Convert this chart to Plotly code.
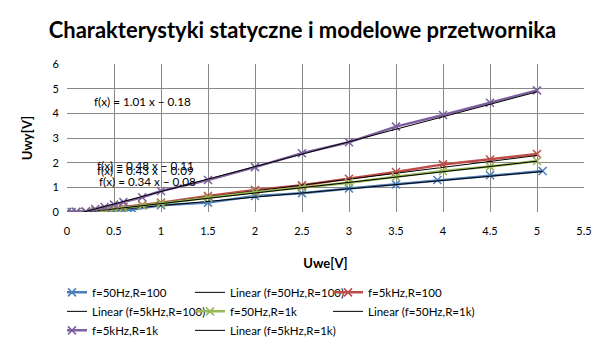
import plotly.graph_objects as go

# ---- data ----
names = ["f=50Hz,R=100", "f=5kHz,R=100", "f=50Hz,R=1k", "f=5kHz,R=1k"]
colors = ["#4A7EBB", "#BE4B48", "#98B954", "#7D60A0"]

x_50_100 = [0, 0.05, 0.1, 0.2, 0.3, 0.4, 0.5, 0.6, 0.7, 1.0, 1.5, 2.0, 2.5, 3.0, 3.5, 3.94, 4.5, 5.06]
y_50_100 = [0, 0, 0, 0, 0.01, 0.03, 0.05, 0.08, 0.1, 0.27, 0.38, 0.65, 0.76, 0.95, 1.12, 1.3, 1.49, 1.66]

x_5k_100 = [0, 0.1, 0.2, 0.3, 0.4, 0.5, 0.6, 0.8, 1.0, 1.5, 2.0, 2.5, 3.0, 3.5, 4.0, 4.5, 5.0]
y_5k_100 = [0, 0, 0.01, 0.04, 0.08, 0.15, 0.2, 0.28, 0.38, 0.65, 0.89, 1.08, 1.35, 1.62, 1.93, 2.13, 2.35]

x_50_1k = [0, 0.1, 0.2, 0.3, 0.4, 0.5, 0.6, 0.8, 1.0, 1.5, 2.0, 2.5, 3.0, 3.5, 4.0, 4.5, 5.0]
y_50_1k = [0, 0, 0.01, 0.03, 0.07, 0.13, 0.17, 0.25, 0.35, 0.58, 0.8, 0.99, 1.19, 1.43, 1.66, 1.84, 2.07]

x_5k_1k = [0, 0.1, 0.2, 0.3, 0.4, 0.5, 0.6, 0.8, 1.0, 1.5, 2.0, 2.5, 3.0, 3.5, 4.0, 4.5, 5.0]
y_5k_1k = [0, 0, 0.02, 0.12, 0.2, 0.3, 0.4, 0.6, 0.85, 1.3, 1.82, 2.38, 2.83, 3.46, 3.93, 4.43, 4.93]

slopes = [0.34, 0.48, 0.43, 1.01]
intercepts = [-0.08, -0.11, -0.09, -0.18]
eq_text = ["f(x) = 0.34 x − 0.08", "f(x) = 0.48 x − 0.11", "f(x) = 0.43 x − 0.09", "f(x) = 1.01 x − 0.18"]
eq_pos = [(0.86, 1.24), (0.83, 1.89), (0.83, 1.69), (0.80, 4.52)]

xs = [x_50_100, x_5k_100, x_50_1k, x_5k_1k]
ys = [y_50_100, y_5k_100, y_50_1k, y_5k_1k]

# legend columns (row-major 3-column layout of the reference legend)
col_of_entry = ["A", "B", "C", "A", "B", "C", "A", "B"]

font = "Lato, Carlito, 'Liberation Sans', sans-serif"

fig = go.Figure()
k = 0
for i in range(4):
    fig.add_trace(go.Scatter(
        x=xs[i], y=ys[i], mode="lines+markers", name=names[i],
        legendgroup=col_of_entry[k],
        legendwidth=140 if col_of_entry[k] == "C" else None,
        line=dict(color=colors[i], width=2.5),
        marker=dict(symbol="x-thin", size=8, color=colors[i],
                    line=dict(color=colors[i], width=1.5)),
    ))
    k += 1
    x0, x1 = min(xs[i]), max(xs[i])
    fig.add_trace(go.Scatter(
        x=[x0, x1], y=[slopes[i] * x0 + intercepts[i], slopes[i] * x1 + intercepts[i]],
        mode="lines", name="Linear (" + names[i] + ")",
        legendgroup=col_of_entry[k],
        legendwidth=140 if col_of_entry[k] == "C" else None,
        line=dict(color="black", width=1),
    ))
    k += 1

for (ax, ay), t in zip(eq_pos, eq_text):
    fig.add_annotation(x=ax, y=ay, text=t, showarrow=False, xanchor="center",
                       yanchor="middle", font=dict(size=11.7, color="black", family=font))

fig.update_layout(
    width=605, height=340,
    margin=dict(l=67, r=21, t=64, b=128, autoexpand=False),
    paper_bgcolor="white", plot_bgcolor="white",
    font=dict(family=font, size=11, color="black"),
    title=dict(text="<b>Charakterystyki statyczne i modelowe przetwornika</b>",
               x=0.5, xanchor="center", y=0.912, yanchor="middle",
               font=dict(size=22, color="black", family=font)),
    showlegend=True,
    legend=dict(orientation="h", x=0, xanchor="left", xref="paper",
                y=-0.445, yanchor="top", yref="paper",
                traceorder="grouped",
                entrywidth=108, entrywidthmode="pixels", itemwidth=30, indentation=-15,
                font=dict(size=11.5, family=font), tracegroupgap=0),
)
fig.update_xaxes(range=[0, 5.5], dtick=0.5, tick0=0, showgrid=True, gridcolor="#888888",
                 gridwidth=1, zeroline=False, showline=False,
                 ticks="outside", ticklen=9, tickcolor="rgba(0,0,0,0)",
                 title=dict(text="<b>Uwe[V]</b>", font=dict(size=13, family=font), standoff=22))
fig.update_yaxes(range=[0, 6], dtick=1, tick0=0, showgrid=True, gridcolor="#888888",
                 gridwidth=1, zeroline=False, showline=False,
                 ticks="outside", ticklen=5, tickcolor="rgba(0,0,0,0)",
                 title=dict(text="<b>Uwy[V]</b>", font=dict(size=13, family=font), standoff=16))

fig.write_html("out.html")
